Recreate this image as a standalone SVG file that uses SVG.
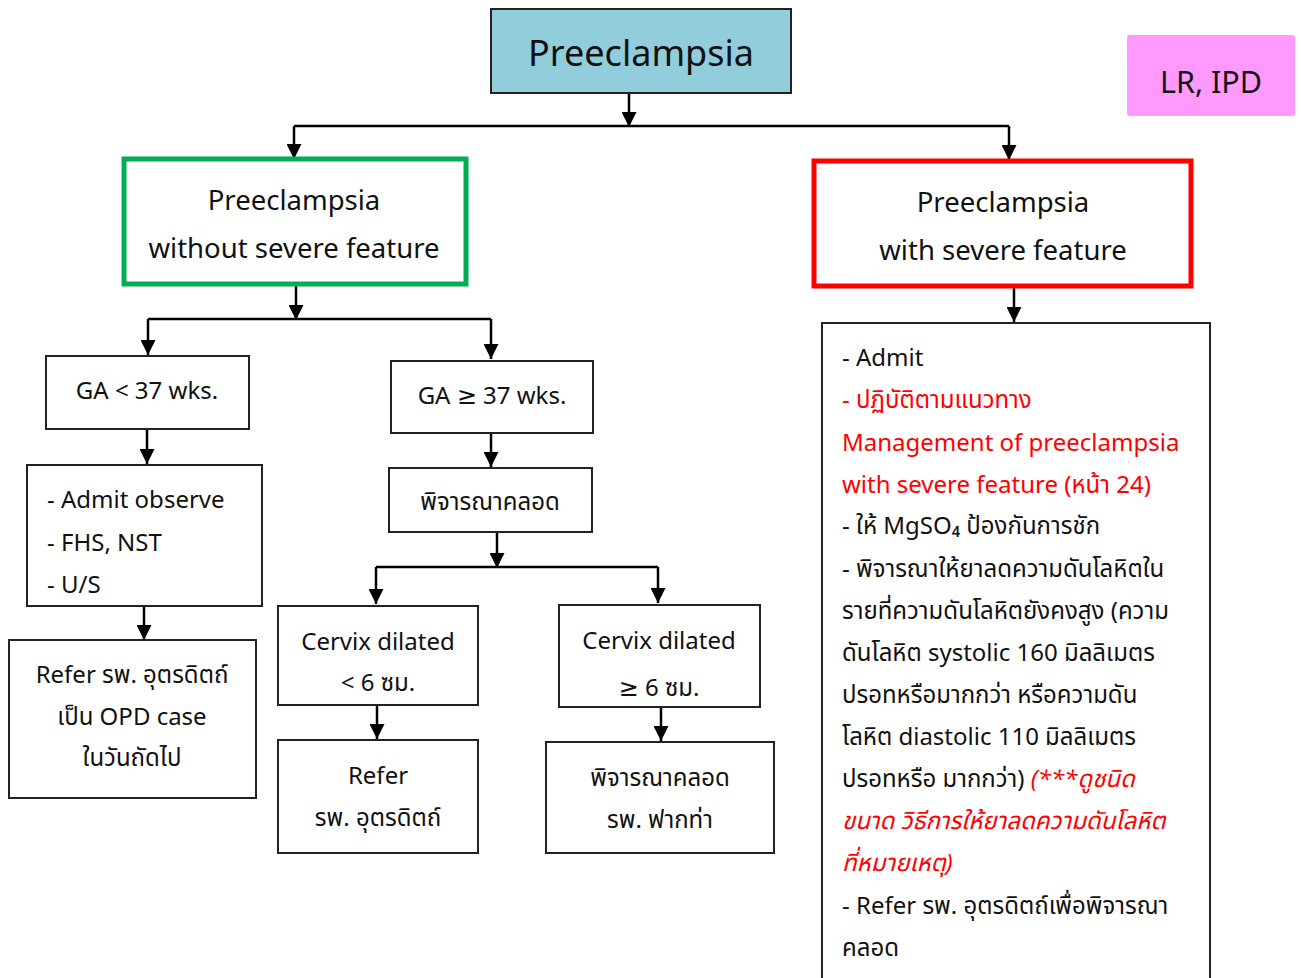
<svg xmlns="http://www.w3.org/2000/svg" width="1301" height="978" viewBox="0 0 1301 978">
<defs>
<marker id="ah" markerWidth="15" markerHeight="15" refX="15" refY="7.5" orient="auto" markerUnits="userSpaceOnUse" viewBox="0 0 15 15">
<path d="M0,0 L15,7.5 L0,15 z" fill="#000"/>
</marker>
<style>
text{font-family:"Noto Sans","Noto Sans Thai","Loma","Garuda","DejaVu Sans",sans-serif;fill:#111;}
.c{text-anchor:middle;font-size:27.5px;}
.l{font-size:24px;}
.box{fill:#fff;stroke:#222;stroke-width:2;}
.cn{fill:none;stroke:#000;stroke-width:2.5;}
.ar{fill:none;stroke:#000;stroke-width:2.5;marker-end:url(#ah);}
.red{fill:#FF0000;}
.it{font-style:italic;}
</style>
</defs>
<rect width="1301" height="978" fill="#fff"/>

<g id="connectors">
<path class="ar" d="M629,93 V127"/>
<path class="cn" d="M294,126 H1009"/>
<path class="ar" d="M294,126 V159"/>
<path class="ar" d="M1009,126 V160"/>
<path class="ar" d="M296,286 V320"/>
<path class="cn" d="M148,319 H491"/>
<path class="ar" d="M148,319 V355"/>
<path class="ar" d="M491,319 V359"/>
<path class="ar" d="M147,429 V464"/>
<path class="ar" d="M144,606 V640"/>
<path class="ar" d="M491,433 V467"/>
<path class="ar" d="M497,532 V568"/>
<path class="cn" d="M376,567 H658"/>
<path class="ar" d="M376,567 V604"/>
<path class="ar" d="M658,567 V603"/>
<path class="ar" d="M377,705 V739"/>
<path class="ar" d="M661,707 V741"/>
<path class="ar" d="M1014,286 V322"/>
</g>

<g id="n-top">
<rect x="491" y="9" width="300" height="84" fill="#92CDDC" stroke="#222" stroke-width="2"/>
<text x="641" y="66" text-anchor="middle" style="font-size:36px">Preeclampsia</text>
</g>

<g id="n-lr">
<rect x="1127" y="35" width="168" height="81" rx="3" fill="#FF99FF"/>
<text x="1211" y="93" text-anchor="middle" style="font-size:30.5px">LR, IPD</text>
</g>

<g id="n-without">
<rect x="124" y="159" width="342" height="125" fill="#fff" stroke="#00B050" stroke-width="5"/>
<text class="c" x="294" y="210">Preeclampsia</text>
<text class="c" x="294" y="258">without severe feature</text>
</g>

<g id="n-with">
<rect x="814" y="161" width="377" height="125" fill="#fff" stroke="#FF0000" stroke-width="5"/>
<text class="c" x="1003" y="212">Preeclampsia</text>
<text class="c" x="1003" y="260">with severe feature</text>
</g>

<g id="n-ga-lt">
<rect class="box" x="46" y="356" width="203" height="73"/>
<text class="l" x="147" y="399" text-anchor="middle">GA &lt; 37 wks.</text>
</g>

<g id="n-ga-ge">
<rect class="box" x="391" y="361" width="202" height="72"/>
<text class="l" x="492" y="404" text-anchor="middle">GA ≥ 37 wks.</text>
</g>

<g id="n-admit-obs">
<rect class="box" x="27" y="465" width="235" height="141"/>
<text class="l" x="47" y="508">- Admit observe</text>
<text class="l" x="47" y="551">- FHS, NST</text>
<text class="l" x="47" y="593">- U/S</text>
</g>

<g id="n-refer-opd">
<rect class="box" x="9" y="640" width="247" height="158"/>
<text class="l" x="132" y="683" text-anchor="middle">Refer รพ. อุตรดิตถ์</text>
<text class="l" x="132" y="725" text-anchor="middle">เป็น OPD case</text>
<text class="l" x="132" y="766" text-anchor="middle">ในวันถัดไป</text>
</g>

<g id="n-consider">
<rect class="box" x="389" y="468" width="203" height="64"/>
<text class="l" x="490" y="510" text-anchor="middle">พิจารณาคลอด</text>
</g>

<g id="n-cervix-lt">
<rect class="box" x="278" y="606" width="200" height="99"/>
<text class="l" x="378" y="650" text-anchor="middle">Cervix dilated</text>
<text class="l" x="378" y="691" text-anchor="middle">&lt; 6 ซม.</text>
</g>

<g id="n-cervix-ge">
<rect class="box" x="559" y="605" width="201" height="102"/>
<text class="l" x="659" y="649" text-anchor="middle">Cervix dilated</text>
<text class="l" x="659" y="696" text-anchor="middle">≥ 6 ซม.</text>
</g>

<g id="n-refer">
<rect class="box" x="278" y="740" width="200" height="113"/>
<text class="l" x="378" y="784" text-anchor="middle">Refer</text>
<text class="l" x="378" y="826" text-anchor="middle">รพ. อุตรดิตถ์</text>
</g>

<g id="n-fakta">
<rect class="box" x="546" y="742" width="228" height="111"/>
<text class="l" x="660" y="786" text-anchor="middle">พิจารณาคลอด</text>
<text class="l" x="660" y="828" text-anchor="middle">รพ. ฟากท่า</text>
</g>

<g id="n-severe-mgmt">
<rect class="box" x="822" y="323" width="388" height="670"/>
<text class="l" x="842" y="366">- Admit</text>
<text class="l red" x="842" y="408">- ปฏิบัติตามแนวทาง</text>
<text class="l red" x="842" y="451">Management of preeclampsia</text>
<text class="l red" x="842" y="493">with severe feature (หน้า 24)</text>
<text class="l" x="842" y="534">- ให้ MgSO₄ ป้องกันการชัก</text>
<text class="l" x="842" y="577">- พิจารณาให้ยาลดความดันโลหิตใน</text>
<text class="l" x="842" y="619">รายที่ความดันโลหิตยังคงสูง (ความ</text>
<text class="l" x="842" y="661">ดันโลหิต systolic 160 มิลลิเมตร</text>
<text class="l" x="842" y="703">ปรอทหรือมากกว่า หรือความดัน</text>
<text class="l" x="842" y="745">โลหิต diastolic 110 มิลลิเมตร</text>
<text class="l" x="842" y="787">ปรอทหรือ มากกว่า) <tspan class="red it">(***ดูชนิด</tspan></text>
<text class="l red it" x="842" y="829">ขนาด วิธีการให้ยาลดความดันโลหิต</text>
<text class="l red it" x="842" y="871">ที่หมายเหตุ)</text>
<text class="l" x="842" y="914">- Refer รพ. อุตรดิตถ์เพื่อพิจารณา</text>
<text class="l" x="842" y="956">คลอด</text>
</g>
</svg>
